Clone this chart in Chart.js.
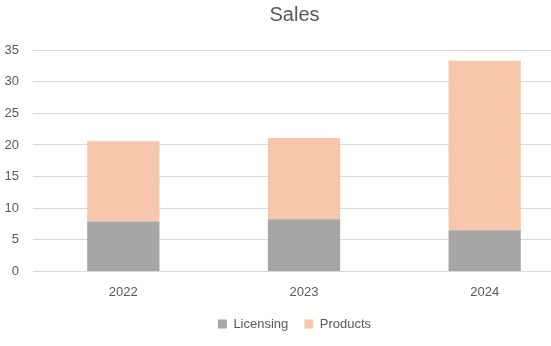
<!DOCTYPE html>
<html>
<head>
<meta charset="utf-8">
<script src="https://cdn.jsdelivr.net/npm/chart.js@4/dist/chart.umd.min.js"></script>
<style>
html,body{margin:0;padding:0;background:#fff;overflow:hidden;}
#wrap{width:551px;height:346px;overflow:hidden;position:relative;}
canvas{display:block;}
</style>
</head>
<body>
<div id="wrap"><canvas id="c" width="589" height="346" style="width:589px;height:346px"></canvas></div>
<script>
const categories = ["2022", "2023", "2024"];
const licensing = [7.9, 8.25, 6.5];
const products = [12.7, 12.85, 26.8];
const yTicks = [0, 5, 10, 15, 20, 25, 30, 35];

const FONT = "'Liberation Sans', Arial, sans-serif";
new Chart(document.getElementById('c'), {
  type: 'bar',
  data: {
    labels: categories,
    datasets: [
      { label: 'Licensing', data: licensing, backgroundColor: '#a6a6a6', borderWidth: 0 },
      { label: 'Products', data: products, backgroundColor: '#f6c7ab', borderWidth: 0 }
    ]
  },
  options: {
    responsive: false,
    animation: false,
    devicePixelRatio: 1,
    layout: { padding: { left: 0, right: 0, top: 0, bottom: 5.5 } },
    datasets: { bar: { barPercentage: 1, categoryPercentage: 0.4 } },
    plugins: {
      title: {
        display: true, text: 'Sales', color: '#595959',
        font: { family: FONT, size: 20, weight: 'normal' },
        padding: { top: 3, bottom: 23 }
      },
      legend: {
        position: 'bottom',
        labels: {
          color: '#595959', boxWidth: 9, boxHeight: 9, padding: 16,
          font: { family: FONT, size: 13 }
        }
      },
      tooltip: { enabled: false }
    },
    scales: {
      x: {
        stacked: true,
        grid: { display: false, drawTicks: false },
        border: { display: true, color: '#d9d9d9', width: 1 },
        ticks: { color: '#595959', padding: 13, font: { family: FONT, size: 13 } },
        afterFit: s => { s.height = 30; }
      },
      y: {
        stacked: true, min: 0, max: 35,
        afterBuildTicks: s => { s.ticks = yTicks.map(v => ({ value: v })); },
        grid: { color: '#d9d9d9', drawTicks: false, lineWidth: 1 },
        border: { display: false },
        ticks: { color: '#595959', padding: 14, font: { family: FONT, size: 13 } },
        afterFit: s => { s.width = 33; }
      },
      yRight: {
        type: 'linear', position: 'right', min: 0, max: 35, display: true,
        grid: { display: false, drawTicks: false },
        border: { display: false },
        ticks: { display: false },
        afterFit: s => { s.width = 14; }
      }
    }
  }
});
</script>
</body>
</html>
